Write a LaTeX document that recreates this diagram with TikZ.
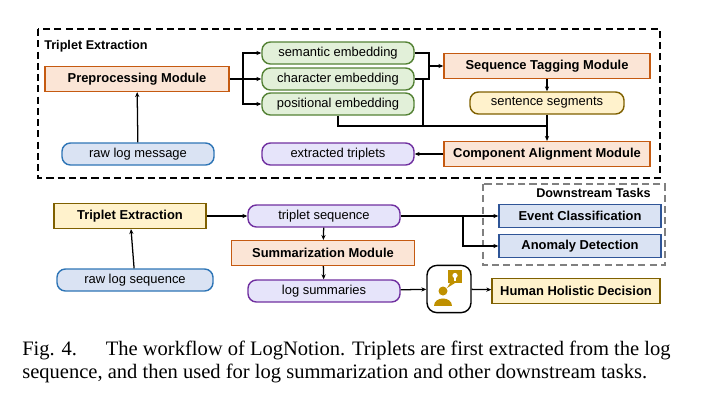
\documentclass[tikz,border=0pt]{standalone}
\usepackage{fontspec}
\setmainfont{Liberation Sans}
\newfontfamily\capfont{Liberation Serif}
\usetikzlibrary{positioning,arrows.meta}

\definecolor{modfill}{HTML}{FBE5D6}
\definecolor{moddraw}{HTML}{C55A11}
\definecolor{embfill}{HTML}{E2F0D9}
\definecolor{embdraw}{HTML}{548235}
\definecolor{rawfill}{HTML}{DAE3F3}
\definecolor{rawdraw}{HTML}{2E75B6}
\definecolor{trifill}{HTML}{E6E4FA}
\definecolor{tridraw}{HTML}{7030A0}
\definecolor{segfill}{HTML}{FFF2CC}
\definecolor{segdraw}{HTML}{7F6000}
\definecolor{taskdraw}{HTML}{2F5597}
\definecolor{icongold}{HTML}{BF9000}

\tikzset{
  module/.style={draw=moddraw, fill=modfill, line width=1pt, minimum height=0.62cm, font=\fontsize{9.2}{11}\selectfont\bfseries},
  emb/.style={draw=embdraw, fill=embfill, line width=1pt, rounded corners=6pt, minimum width=3.8cm, minimum height=0.55cm, font=\fontsize{9.2}{11}\selectfont},
  raw/.style={draw=rawdraw, fill=rawfill, line width=1pt, rounded corners=6pt, minimum height=0.55cm, font=\fontsize{9.2}{11}\selectfont},
  tri/.style={draw=tridraw, fill=trifill, line width=1pt, rounded corners=6pt, minimum width=3.8cm, minimum height=0.55cm, font=\fontsize{9.2}{11}\selectfont},
  seg/.style={draw=segdraw, fill=segfill, line width=1pt, minimum height=0.62cm, font=\fontsize{9.2}{11}\selectfont\bfseries},
  task/.style={draw=taskdraw, fill=rawfill, line width=1pt, minimum width=4.05cm, minimum height=0.58cm, font=\fontsize{9.2}{11}\selectfont\bfseries},
  arr/.style={-{Stealth[length=3.5pt,width=3pt]}, line width=0.9pt},
  ln/.style={line width=0.9pt}
}

\begin{document}
\begin{tikzpicture}[x=0.025cm, y=-0.025cm]
\useasboundingbox (0,0) rectangle (708,409);

% Triplet extraction panel
\draw[dashed, line width=1pt, dash pattern=on 5pt off 3pt] (38,29) rectangle (660,178);
\node[anchor=west, font=\fontsize{9}{10}\selectfont\bfseries, inner sep=0pt] (tetitle) at (44,46) {Triplet Extraction};
\node[module, minimum width=4.6cm] (prep) at (137,79) {Preprocessing Module};
\node[raw, minimum width=3.8cm] (rawmsg) at (138,154) {raw log message};
\node[emb] (sem) at (338,53) {semantic embedding};
\node[emb] (chr) at (338,79) {character embedding};
\node[emb] (pos) at (338,104) {positional embedding};
\node[module, minimum width=5.15cm] (tag) at (547,66) {Sequence Tagging Module};
\node[seg, rounded corners=6pt, minimum width=3.85cm, minimum height=0.55cm, font=\fontsize{9.2}{11}\selectfont] (sent) at (547,103) {sentence segments};
\node[module, minimum width=5.15cm] (align) at (547,154) {Component Alignment Module};
\node[tri] (extr) at (338,154) {extracted triplets};
\coordinate (split) at (243,79);
\coordinate (merge) at (429,66);
\coordinate (join) at (547,126);

\draw[arr] (rawmsg) -- (prep);
\draw[ln] (prep) -- (split);
\draw[arr] (split) |- (sem);
\draw[arr] (split) -- (chr);
\draw[arr] (split) |- (pos);
\draw[ln] (sem.east) -| (merge);
\draw[ln] (chr.east) -| (merge);
\draw[arr] (merge) -- (tag);
\draw[ln] (pos.south) |- (join);
\draw[ln] (423,79) -- (423,126);
\draw[arr] (tag) -- (sent);
\draw[arr] (sent) -- (align);
\draw[arr] (align) -- (extr);

% Downstream tasks
\draw[dashed, gray, line width=1pt, dash pattern=on 5pt off 3pt] (483,184) rectangle (665,265);
\node[anchor=east, font=\fontsize{9}{10}\selectfont\bfseries, inner sep=0pt] (dstitle) at (651,193) {Downstream Tasks};
\node[task] (event) at (580,216) {Event Classification};
\node[task] (anom) at (580,246) {Anomaly Detection};

% Lower workflow
\node[seg, minimum width=3.8cm] (triext) at (130,216) {Triplet Extraction};
\node[raw, minimum width=3.9cm] (rawseq) at (135,280) {raw log sequence};
\node[tri] (triseq) at (324,216) {triplet sequence};
\node[module, minimum width=4.575cm] (summ) at (323,253) {Summarization Module};
\node[tri] (logsum) at (324,291) {log summaries};
\node[draw, line width=1pt, rounded corners=7pt, minimum width=1.1cm, minimum height=1.18cm] (human) at (449,289) {};
\node[seg, minimum width=4.2cm] (decide) at (576,291) {Human Holistic Decision};
\coordinate (fork) at (463,216);

% person icon
\fill[icongold] (443,291) circle (4.5);
\fill[icongold] (434,306) .. controls (434,296) and (452,296) .. (452,306) -- cycle;
\fill[icongold] (448,270) rectangle (462,283);
\fill[icongold] (450,283) -- (447,288) -- (455,283) -- cycle;
\fill[white] (455,275.5) circle (2.6);
\fill[white] (454,278) rectangle (456,280.5);

\draw[arr] (rawseq) -- (triext);
\draw[arr] (triext) -- (triseq);
\draw[arr] (triseq) -- (summ);
\draw[arr] (summ) -- (logsum);
\draw[arr] (triseq) -- (event);
\draw[arr] (fork) |- (anom);
\draw[arr] (logsum) -- (human);
\draw[arr] (human) -- (decide);

% caption
\node[anchor=north west, align=left, inner sep=0pt, font=\capfont\fontsize{14.6}{16.5}\selectfont] (caption) at (22,341)
  {Fig. 4.\hspace{1.4em}The workflow of LogNotion. Triplets are first extracted from the log\\sequence, and then used for log summarization and other downstream tasks.};
\end{tikzpicture}
\end{document}
